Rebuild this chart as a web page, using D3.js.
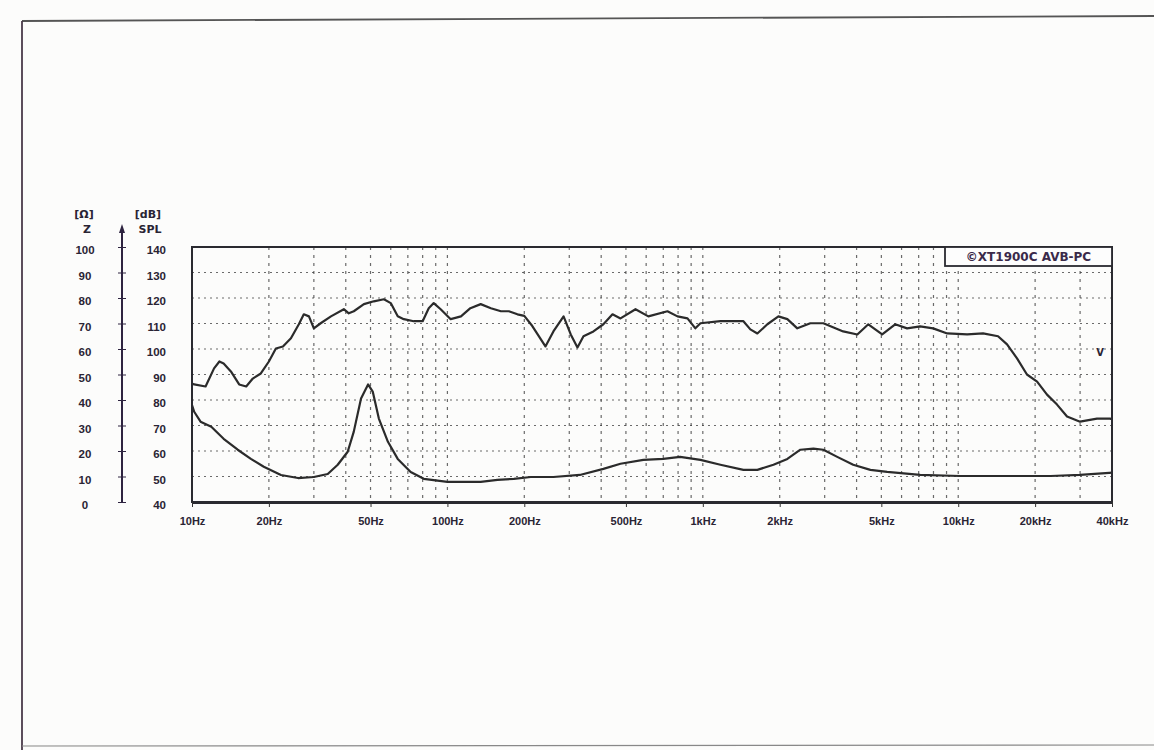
<!DOCTYPE html>
<html><head><meta charset="utf-8">
<script src="https://cdn.jsdelivr.net/npm/d3@7"></script>
<style>
html,body{margin:0;padding:0;background:#fcfcfb;}
svg{display:block;font-family:"DejaVu Sans","Liberation Sans",Arial,sans-serif;}
</style></head>
<body>
<svg id="c" width="1154" height="750"></svg>
<script>
// ---- data ----
const xTickValues = [10,20,50,100,200,500,1000,2000,5000,10000,20000,40000];
const xTickLabels = ["10Hz","20Hz","50Hz","100Hz","200Hz","500Hz","1kHz","2kHz","5kHz","10kHz","20kHz","40kHz"];
const splTicks = [40,50,60,70,80,90,100,110,120,130,140];
const zTicks = [0,10,20,30,40,50,60,70,80,90,100];
const legendText = "\u00A9XT1900C AVB-PC";

const splFreq = [10,10.2,11.3,12.2,12.8,13.3,14.2,15.3,16.3,17.3,18.6,20,21.3,22.7,24.4,26.2,27.4,28.7,30,31.9,35,39.3,41.1,43,47.1,51.5,56.4,60,63.9,67.5,73.8,80,84.5,88.4,94.1,103,113,123,135,148,162,174,188,200,215,242,260,285,304,323,341,373,408,443,476,545,612,727,796,871,935,979,1172,1442,1535,1635,1790,1977,2143,2344,2636,2965,3545,4027,4446,5038,5664,6306,7093,7976,9057,10840,12510,14320,15530,16990,18580,20360,22270,24370,26670,29990,34940,39270,40000];
const splDb = [86.5,86.1,85.3,92.4,95.1,94.3,91.2,86.1,85.3,88.4,90.4,95.1,100.2,101.0,104.2,109.7,113.6,112.8,108.1,110.1,112.8,115.6,114.0,114.8,117.6,118.7,119.5,118.0,112.8,111.7,110.9,110.9,116.0,118.0,115.6,111.7,112.8,116.0,117.6,116.0,114.8,114.8,113.6,113.0,109.0,101.0,106.9,112.8,105.7,100.6,105.0,106.9,109.7,113.6,112.0,115.6,112.8,114.8,112.8,112.0,108.1,110.1,110.9,110.9,107.7,106.1,109.7,112.8,111.7,108.1,110.1,110.1,106.9,105.7,109.7,105.7,109.7,108.1,108.9,108.1,106.1,105.7,106.1,105.0,101.8,96.3,90.0,87.2,82.1,78.2,73.5,71.5,72.7,72.7,72.5];

const zFreq = [10,10.2,10.8,11.9,13.3,15.1,17,19.1,22.3,26,30,34,37.2,40.7,43,45.9,48.9,51,53.9,58.5,63.9,71.8,80.8,100,135,157,182,212,260,330,408,476,585,700,815,979,1172,1442,1635,1890,2143,2410,2710,2965,3360,3880,4530,5270,7093,10170,14600,23000,30000,39000,40000];
const zOhm = [38,35.4,31.5,29.5,24.8,20.5,16.9,13.8,10.6,9.4,9.8,11.0,14.6,19.7,27.6,40.6,46.1,43.3,32.7,23.6,16.9,11.8,9.1,7.9,7.9,8.7,9.1,9.8,9.8,10.6,13.0,15.0,16.5,16.9,17.7,16.5,14.6,12.6,12.6,14.6,16.9,20.5,20.9,20.5,17.7,14.6,12.6,11.8,10.6,10.2,10.2,10.2,10.6,11.4,11.5];

// ---- layout ----
const L = 192, R = 1112, T = 247, B = 502;
const svg = d3.select("#c");
const x = d3.scaleLog().domain([10,40000]).range([L,R]);
const y = d3.scaleLinear().domain([40,140]).range([B,T]);
const yz = d3.scaleLinear().domain([0,100]).range([B,T]);
const ink = "#2a2434";

// outer scan frame
svg.append("line").attr("x1",22).attr("y1",21).attr("x2",1154).attr("y2",16).attr("stroke","#555").attr("stroke-width",1.8);
svg.append("line").attr("x1",22).attr("y1",21).attr("x2",22).attr("y2",750).attr("stroke","#4a3a4a").attr("stroke-width",1.8);
svg.append("line").attr("x1",22).attr("y1",746).attr("x2",1154).attr("y2",745).attr("stroke","#888").attr("stroke-width",1.2);

// grid
const minor = [];
[10,100,1000,10000].forEach(d => { for (let m=1;m<=9;m++){ const f=d*m; if(f>10 && f<40000) minor.push(f);} });
minor.push(20000,30000);
const g = svg.append("g");
g.selectAll("line.v").data(Array.from(new Set(minor))).join("line")
  .attr("x1",d=>x(d)).attr("x2",d=>x(d)).attr("y1",T).attr("y2",B)
  .attr("stroke","#3a3a3a").attr("stroke-width",1.2).attr("stroke-dasharray","3,5").attr("opacity",0.75);
g.selectAll("line.h").data(splTicks.filter(d=>d>40&&d<140)).join("line")
  .attr("x1",L).attr("x2",R).attr("y1",d=>y(d)).attr("y2",d=>y(d))
  .attr("stroke","#3a3a3a").attr("stroke-width",1.2).attr("stroke-dasharray","2,4").attr("opacity",0.75);

// curves
const line = d3.line().x(d=>x(d[0])).y(d=>d[1]);
svg.append("path").attr("d", line(splFreq.map((f,i)=>[f,y(splDb[i])])))
  .attr("fill","none").attr("stroke","#2b2b2b").attr("stroke-width",2.2).attr("stroke-linejoin","round");
svg.append("path").attr("d", line(zFreq.map((f,i)=>[f,yz(zOhm[i])])))
  .attr("fill","none").attr("stroke","#2b2b2b").attr("stroke-width",2.2).attr("stroke-linejoin","round");

// plot frame
svg.append("rect").attr("x",L).attr("y",T).attr("width",R-L).attr("height",B-T)
  .attr("fill","none").attr("stroke","#2a2a30").attr("stroke-width",2);
svg.append("line").attr("x1",L).attr("x2",R).attr("y1",B+1).attr("y2",B+1).attr("stroke","#2a2a30").attr("stroke-width",2);

// bottom axis
const xa = svg.append("g").attr("transform",`translate(0,${B})`)
  .call(d3.axisBottom(x).tickValues(xTickValues).tickFormat((d,i)=>xTickLabels[i]).tickSize(5).tickPadding(10));
xa.select(".domain").remove();
xa.selectAll("line").attr("stroke","#333");
xa.selectAll("text").attr("font-size",11).attr("font-weight","bold").attr("fill",ink);

// left axes
const AX = 122;
svg.append("line").attr("x1",AX).attr("x2",AX).attr("y1",228).attr("y2",B).attr("stroke","#2e2440").attr("stroke-width",2);
svg.append("path").attr("d",`M${AX-3},233 L${AX},224 L${AX+3},233 Z`).attr("fill","#2e2440");
const za = svg.append("g").attr("transform",`translate(${AX},3)`)
  .call(d3.axisLeft(yz).tickValues(zTicks).tickSize(4).tickPadding(26));
za.select(".domain").remove();
za.selectAll("line").attr("stroke","#2e2440").attr("transform","translate(0,-3)");
za.selectAll("text").attr("font-size",11.5).attr("font-weight","bold").attr("fill",ink).attr("text-anchor","middle").attr("x",-37);
const sa = svg.append("g").attr("transform",`translate(${AX},3)`)
  .call(d3.axisRight(y).tickValues(splTicks).tickSize(4).tickPadding(20));
sa.select(".domain").remove();
sa.selectAll("line").attr("stroke","#2e2440").attr("transform","translate(0,-3)");
sa.selectAll("text").attr("font-size",11.5).attr("font-weight","bold").attr("fill",ink).attr("text-anchor","end").attr("x",44);

// axis headers
const hdr = (t,xx,yy,anchor)=>svg.append("text").attr("x",xx).attr("y",yy).attr("text-anchor",anchor||"middle")
  .attr("font-size",11).attr("font-weight","bold").attr("fill",ink).text(t);
hdr("[\u03A9]",84,218);
hdr("Z",87,233);
hdr("[dB]",148,218);
hdr("SPL",150,233);

// legend
svg.append("rect").attr("x",945).attr("y",T).attr("width",R-945).attr("height",19)
  .attr("fill","#fdfdfd").attr("stroke","#2a2a30").attr("stroke-width",1.8);
svg.append("text").attr("x",(945+R)/2).attr("y",T+14).attr("text-anchor","middle")
  .attr("font-size",12).attr("font-weight","bold").attr("fill","#3a2a4a").text(legendText);

// V marker
svg.append("text").attr("x",1100).attr("y",y(100)+7).attr("text-anchor","middle")
  .attr("font-size",10).attr("font-weight","bold").attr("fill",ink).text("V");
</script>
</body></html>
